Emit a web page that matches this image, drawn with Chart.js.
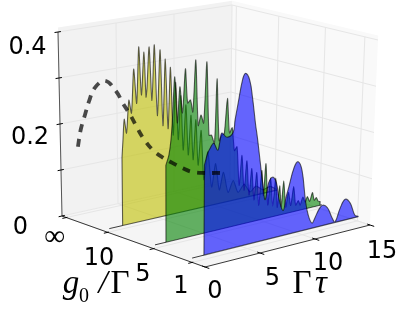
<!DOCTYPE html>
<html>
<head>
<meta charset="utf-8">
<style>html,body{margin:0;padding:0;background:#fff}canvas{display:block}</style>
<script src="https://cdn.jsdelivr.net/npm/chart.js@4"></script>
</head>
<body>
<canvas id="c" width="407" height="312"></canvas>
<script>
// ---- values ----
const tauTicks = [0, 5, 10, 15];
const tauTickLabels = ['0', '5', '10', '15'];
const gTickLabels = ['\u221E', '10', '5', '1'];
const gTickPos = [0.03, 0.32, 0.64, 0.91];
const zTicks = [0, 0.1, 0.2, 0.3, 0.4];
const zTickLabels = ['0', '', '0.2', '', '0.4'];

const tauYellow = [1.85,1.95,2.08,2.27,2.5,2.72,2.94,3.18,3.39,3.6,3.84,4.0,4.09,4.29,4.52,4.74,4.99,5.24,5.48,5.69,5.93,6.14,6.38,6.6,6.83,7.05,7.27,7.5,7.72,7.95,8.15,8.38,8.6,8.85,9.12,9.46,9.82,10.16,10.51,10.87,11.3,11.75,12.2,12.74,13.27,13.8,14.44,15.07,15.6];
const zYellow = [0.146,0.182,0.227,0.196,0.266,0.237,0.331,0.256,0.377,0.272,0.364,0.266,0.285,0.373,0.256,0.376,0.221,0.363,0.197,0.341,0.188,0.321,0.172,0.286,0.160,0.255,0.135,0.233,0.122,0.208,0.109,0.196,0.095,0.170,0.060,0.120,0.040,0.090,0.030,0.067,0.020,0.044,0.015,0.030,0.010,0.020,0.008,0.012,0.003];

const tauGreen = [1.64,1.91,2.09,2.23,2.43,2.66,2.88,3.11,3.36,3.56,3.81,4.02,4.26,4.5,4.74,4.98,5.23,5.46,5.68,5.95,6.13,6.36,6.61,6.81,7.06,7.27,7.51,7.73,7.96,8.19,8.41,8.64,8.86,9.09,9.31,9.54,9.76,9.99,10.21,10.39,10.57,10.8,11.02,11.25,11.48,11.66,11.84,12.02,12.2,12.43,12.65,12.88,13.11,13.33,13.56,13.74,13.96,14.19,14.37,14.59,14.82,15,15.18,15.36,15.54];
const zGreen = [0.161,0.181,0.211,0.257,0.343,0.245,0.320,0.264,0.356,0.283,0.288,0.262,0.371,0.231,0.252,0.234,0.363,0.206,0.205,0.186,0.323,0.190,0.201,0.202,0.277,0.202,0.212,0.162,0.169,0.085,0.148,0.072,0.134,0.059,0.115,0.046,0.104,0.032,0.106,0.051,0.119,0.028,0.085,0.023,0.082,0.018,0.064,0.017,0.073,0.014,0.045,0.015,0.055,0.013,0.022,0.011,0.027,0.014,0.026,0.014,0.032,0.014,0.019,0.010,0.008];

const tauBlue = [1.72,2.0,2.26,2.53,2.89,3.07,3.25,3.71,4.25,4.4,4.66,5.02,5.28,5.64,5.92,6.22,6.41,6.7,7.0,7.2,7.47,7.7,7.93,8.2,8.48,8.85,9.07,9.3,9.74,10.1,10.47,10.85,11.13,11.5,11.78,12.1,12.42,12.87,13.33,13.6,14.02,14.46,14.93,15.4,15.7];
const zBlue = [0.185,0.208,0.219,0.226,0.210,0.226,0.244,0.233,0.241,0.265,0.300,0.347,0.359,0.344,0.305,0.249,0.219,0.166,0.112,0.085,0.118,0.128,0.128,0.114,0.077,0.053,0.078,0.099,0.139,0.150,0.129,0.063,0.031,0.011,0.022,0.037,0.044,0.036,0.011,0.001,0.028,0.045,0.034,0.005,0.001];

const tauLimit = [1.53,1.8,2.2,2.56,3.09,4.0,4.97,5.5,6.2,6.8,7.4,8.2,9.05,9.85,10.72,11.62,12.77,14.1,14.64];
const zLimit = [0.143,0.179,0.210,0.237,0.265,0.2767,0.248,0.221,0.189,0.157,0.129,0.1006,0.0804,0.0649,0.0488,0.035,0.0262,0.0188,0.0135];

const rowYellow = 0.28, rowGreen = 0.60, rowBlue = 0.86; // depth of the g0 = 10, 5, 1 slices
const baseStart = 0.65, baseEnd = 15.7;

// ---- 3D view: tau (0..15), depth u (0 back .. 1 front), z (0..0.4) -> picture units ----
const bil = (s, u, a, b, c, d) => (1-s)*(1-u)*a + (1-s)*u*b + s*u*c + s*(1-u)*d;
function project(t, u, z) {
  const s = t / 15, k = z / 0.4;
  return {
    x: bil(s, u, 62, 205, 370, 230) + k * bil(s, u, -4, 1, 8, 2),
    y: bil(s, u, 216, 267, 225, 179) - k * bil(s, u, 184, 198, 185, 174)
  };
}
const GAP = {x: NaN, y: NaN};
const base = {showLine: true, pointRadius: 0, pointHoverRadius: 0, borderWidth: 1, tension: 0, fill: false};
const datasets = [];
function poly(pts, color) {
  datasets.push({...base, data: pts.map(p => project(...p)), borderWidth: 0, areaFill: color});
}
function lines(segs, color, width) {
  const data = [];
  segs.forEach(sg => { sg.forEach(p => data.push(project(...p))); data.push(GAP); });
  datasets.push({...base, data, borderColor: color, borderWidth: width});
}
function slice(tau, z, u, fill, tension) {
  lines([[[baseStart, u, 0], [tau[0], u, 0]], [[tau[tau.length-1], u, 0], [baseEnd, u, 0]]], 'rgba(0,0,0,0.75)', 1);
  datasets.push({...base, tension, borderWidth: 0,
    data: tau.map((t, i) => project(t, u, z[i])),
    areaFill: fill, areaEdge: 'rgba(0,0,0,0.6)',
    areaBase: [project(tau[tau.length-1], u, 0), project(tau[0], u, 0)]});
}

// panes
const paneTop = 0.41;
poly([[0,0,0],[15,0,0],[15,0,paneTop],[0,0,paneTop]], '#f2f2f2');
poly([[15,0,0],[15,1,0],[15,1,paneTop],[15,0,paneTop]], '#f9f9f9');
poly([[0,0,0],[0,1,0],[15,1,0],[15,0,0]], '#f5f5f5');
// grid
const gridSegs = [];
tauTicks.forEach(t => {
  gridSegs.push([[t,0,0],[t,0,0.4]]);
  gridSegs.push([[t,0,0],[t,1,0]]);
});
gTickPos.forEach(u => {
  gridSegs.push([[15,u,0],[15,u,0.4]]);
  gridSegs.push([[0,u,0],[15,u,0]]);
});
zTicks.forEach(z => {
  gridSegs.push([[0,0,z],[15,0,z]]);
  gridSegs.push([[15,0,z],[15,1,z]]);
});
lines(gridSegs, '#e6e6e6', 1);
// axis lines and ticks
lines([[[0,0,0],[0,0,0.4]]], '#555', 1);
lines([[[0,0,0],[0,1,0],[15,1,0]]], '#222', 0.9);
lines(zTicks.map(z => [[-0.3,0,z],[0.25,0,z]]), '#000', 1);
lines(gTickPos.map(u => [[-0.35,u,0],[0.1,u,0]]), '#000', 1);
lines(tauTicks.map(t => [[t,1.03,0],[t,0.98,0]]), '#000', 1);
// slices
slice(tauYellow, zYellow, rowYellow, 'rgba(191,191,0,0.6)', 0.25);
slice(tauGreen, zGreen, rowGreen, 'rgba(0,128,0,0.6)', 0.25);
slice(tauBlue, zBlue, rowBlue, 'rgba(0,0,255,0.6)', 0.4);
// limit curve on the back wall
datasets.push({...base, tension: 0.4, data: tauLimit.map((t, i) => project(t, 0, zLimit[i])),
  borderColor: 'rgba(0,0,0,0.7)', borderWidth: 3.8, borderDash: [8, 7]});

const sans = '24px "DejaVu Sans"';
const serif = '33px "Liberation Serif"';
const serifI = 'italic 33px "Liberation Serif"';
const texts = [
  [zTickLabels[4], 27.5, 54, sans], [zTickLabels[2], 30, 144, sans], [zTickLabels[0], 20.5, 234, sans],
  [gTickLabels[0], 54.5, 245, '200 29px "DejaVu Sans"'], [gTickLabels[1], 99, 265, sans],
  [gTickLabels[2], 143, 281, sans], [gTickLabels[3], 181, 293, sans],
  [tauTickLabels[0], 215, 298, sans], [tauTickLabels[1], 272.5, 285, sans],
  [tauTickLabels[2], 328, 270, sans], [tauTickLabels[3], 382, 258, sans],
  ['g', 71, 293, serifI], ['0', 84, 302, '20px "Liberation Serif"'], ['/', 103, 293, serifI], ['\u0393', 120, 293, serif],
  ['\u0393', 302, 293, serif], ['\u03C4', 321, 293, serifI]
];

const areaPlugin = {
  id: 'areaPlugin',
  beforeDatasetDraw(chart, args) {
    const ds = chart.data.datasets[args.index];
    if (!ds.areaFill) return;
    const ctx = chart.ctx, line = args.meta.dataset, sx = chart.scales.x, sy = chart.scales.y;
    line.updateControlPoints(chart.chartArea, 'x');
    ctx.save();
    ctx.beginPath();
    line.path(ctx);
    (ds.areaBase || []).forEach(p => ctx.lineTo(sx.getPixelForValue(p.x), sy.getPixelForValue(p.y)));
    ctx.closePath();
    ctx.fillStyle = ds.areaFill;
    ctx.fill();
    if (ds.areaEdge) { ctx.strokeStyle = ds.areaEdge; ctx.lineWidth = 1.1; ctx.lineJoin = 'round'; ctx.stroke(); }
    ctx.restore();
  },
  afterDraw(chart) {
    const ctx = chart.ctx;
    ctx.save();
    ctx.fillStyle = '#000';
    ctx.textAlign = 'center';
    ctx.textBaseline = 'alphabetic';
    texts.forEach(([s, x, y, f]) => { ctx.font = f; ctx.fillText(s, x, y); });
    ctx.restore();
  }
};

new Chart(document.getElementById('c'), {
  type: 'scatter',
  data: {datasets: datasets.slice().reverse()},
  plugins: [areaPlugin],
  options: {
    responsive: false, animation: false, devicePixelRatio: 1,
    layout: {padding: 0},
    plugins: {legend: {display: false}, tooltip: {enabled: false}},
    scales: {
      x: {type: 'linear', min: 0, max: 407, display: false},
      y: {type: 'linear', min: 0, max: 312, reverse: true, display: false}
    }
  }
});
</script>
</body>
</html>
